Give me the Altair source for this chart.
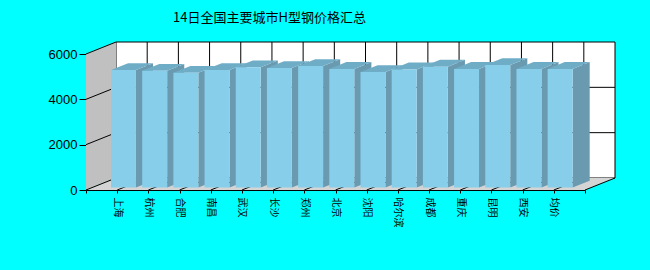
import altair as alt
import pandas as pd

# ---- data ----
cities = ["上海", "杭州", "合肥", "南昌", "武汉", "长沙", "郑州", "北京",
          "沈阳", "哈尔滨", "成都", "重庆", "昆明", "西安", "均价"]
prices = [5180, 5150, 5060, 5180, 5300, 5270, 5360, 5230,
          5090, 5210, 5330, 5230, 5400, 5230, 5230]
y_ticks = [0, 2000, 4000, 6000]
title_text = "14日全国主要城市H型钢价格汇总"

# ---- layout / 3D style ----
W, H = 499, 136
XMAX, YMAX = len(cities) + 1, 6000
DX_PX, DY_PX = 30, 12          # depth of the 3D box in pixels
dxu = DX_PX * XMAX / W          # depth in x data units
dyu = DY_PX * YMAX / H          # depth in y data units
FRONT, BACK = 0.21, 0.78        # bar depth slice
HALF = 0.4                      # half bar width (x units)

xs = alt.Scale(domain=[0, XMAX], nice=False, zero=False)
ys = alt.Scale(domain=[0, YMAX], nice=False, zero=False)

label_arr = "[" + ",".join("'%s'" % c for c in cities) + "]"
x_axis = alt.Axis(values=list(range(0, XMAX + 1)), title=None, grid=False,
                  tickSize=3, tickColor="black", domainColor="black",
                  labelAngle=90, labelAlign="left", labelBaseline="middle",
                  labelPadding=4, labelFont="Noto Sans CJK SC", labelFontSize=10,
                  labelColor="black", labelOverlap=False,
                  labelExpr=f"datum.value>=1 && datum.value<={len(cities)} ? {label_arr}[datum.value-1] : ''")
y_axis = alt.Axis(values=y_ticks, title=None, grid=False, tickSize=7, format="d",
                  tickColor="black", domainColor="black", labelPadding=2,
                  labelFont="Liberation Sans", labelFontSize=13, labelColor="black")


def X(f):
    return alt.X(f, type="quantitative", scale=xs, axis=x_axis)


def Y(f):
    return alt.Y(f, type="quantitative", scale=ys, axis=y_axis)


# back wall
back = pd.DataFrame({"x": [dxu], "x2": [XMAX + dxu], "y": [dyu], "y2": [YMAX + dyu]})
back_wall = alt.Chart(back).mark_rect(fill="white", stroke="black", strokeWidth=1).encode(
    x=X("x"), x2="x2", y=Y("y"), y2="y2")

# back wall grid
vg = pd.DataFrame({"x": [i + dxu for i in range(1, XMAX)], "y": dyu, "y2": YMAX + dyu})
back_v = alt.Chart(vg).mark_rule(color="black", strokeWidth=1).encode(x=X("x"), y=Y("y"), y2="y2")
hg = pd.DataFrame({"x": dxu, "x2": XMAX + dxu, "y": [v + dyu for v in y_ticks[1:-1]]})
back_h = alt.Chart(hg).mark_rule(color="black", strokeWidth=1).encode(x=X("x"), x2="x2", y=Y("y"))

# left wall
lw = pd.DataFrame({"x": [0, dxu], "lo": [0, dyu], "hi": [YMAX, YMAX + dyu]})
left_wall = alt.Chart(lw).mark_area(color="#C0C0C0", orient="vertical").encode(
    x=X("x"), y=Y("lo"), y2="hi")

# floor
fl = pd.DataFrame({"x": [0, dxu, XMAX, XMAX + dxu],
                   "lo": [0, 0, 0, dyu], "hi": [0, dyu, dyu, dyu]})
floor = alt.Chart(fl).mark_area(color="#D4D4D4", orient="vertical").encode(
    x=X("x"), y=Y("lo"), y2="hi")

# diagonals on left wall and floor
ld = pd.DataFrame({"x": 0, "x2": dxu, "y": y_ticks, "y2": [v + dyu for v in y_ticks]})
left_diag = alt.Chart(ld).mark_rule(color="black", strokeWidth=1).encode(
    x=X("x"), x2="x2", y=Y("y"), y2="y2")
fd = pd.DataFrame({"x": list(range(1, XMAX + 1)), "y": 0, "y2": dyu})
fd["x2"] = fd["x"] + dxu
floor_diag = alt.Chart(fd).mark_rule(color="black", strokeWidth=1).encode(
    x=X("x"), x2="x2", y=Y("y"), y2="y2")

# bars
side_rows, top_rows, front_rows = [], [], []
d = (BACK - FRONT) * dxu
e = (BACK - FRONT) * dyu
for i, (c, v) in enumerate(zip(cities, prices)):
    cx = i + 1
    xl = cx - HALF + FRONT * dxu
    xr = cx + HALF + FRONT * dxu
    base0 = FRONT * dyu
    top = v + FRONT * dyu
    front_rows.append({"city": c, "x": xl, "x2": xr, "y": base0, "y2": top})
    side_rows += [{"city": c, "x": xr, "lo": base0, "hi": top},
                  {"city": c, "x": xr + d, "lo": base0 + e, "hi": top + e}]
    top_rows += [{"city": c, "x": xl, "lo": top, "hi": top},
                 {"city": c, "x": xl + d, "lo": top, "hi": top + e},
                 {"city": c, "x": xr, "lo": top, "hi": top + e},
                 {"city": c, "x": xr + d, "lo": top + e, "hi": top + e}]

side = alt.Chart(pd.DataFrame(side_rows)).mark_area(color="#6A9AB0", orient="vertical").encode(
    x=X("x"), y=Y("lo"), y2="hi", detail="city:N")
topf = alt.Chart(pd.DataFrame(top_rows)).mark_area(color="#6FADC7", orient="vertical").encode(
    x=X("x"), y=Y("lo"), y2="hi", detail="city:N")
front = alt.Chart(pd.DataFrame(front_rows)).mark_rect(color="#87CEEB").encode(
    x=X("x"), x2="x2", y=Y("y"), y2="y2")

chart = alt.layer(back_wall, back_v, back_h, left_wall, floor, left_diag, floor_diag,
                  side, topf, front).properties(
    width=W, height=H,
    padding={"left": 86, "top": 54, "right": 65, "bottom": 80},
    autosize=alt.AutoSizeParams(type="none"),
    background="#00FFFF",
    title=alt.TitleParams(title_text, anchor="start", frame="group", dx=87, dy=-13,
                          font="Noto Sans CJK SC", fontSize=13, fontWeight="normal",
                          color="black"),
).configure_view(stroke=None).configure_axis(zindex=1)

chart.save("out.html", embed_options={"renderer": "svg", "actions": False})
